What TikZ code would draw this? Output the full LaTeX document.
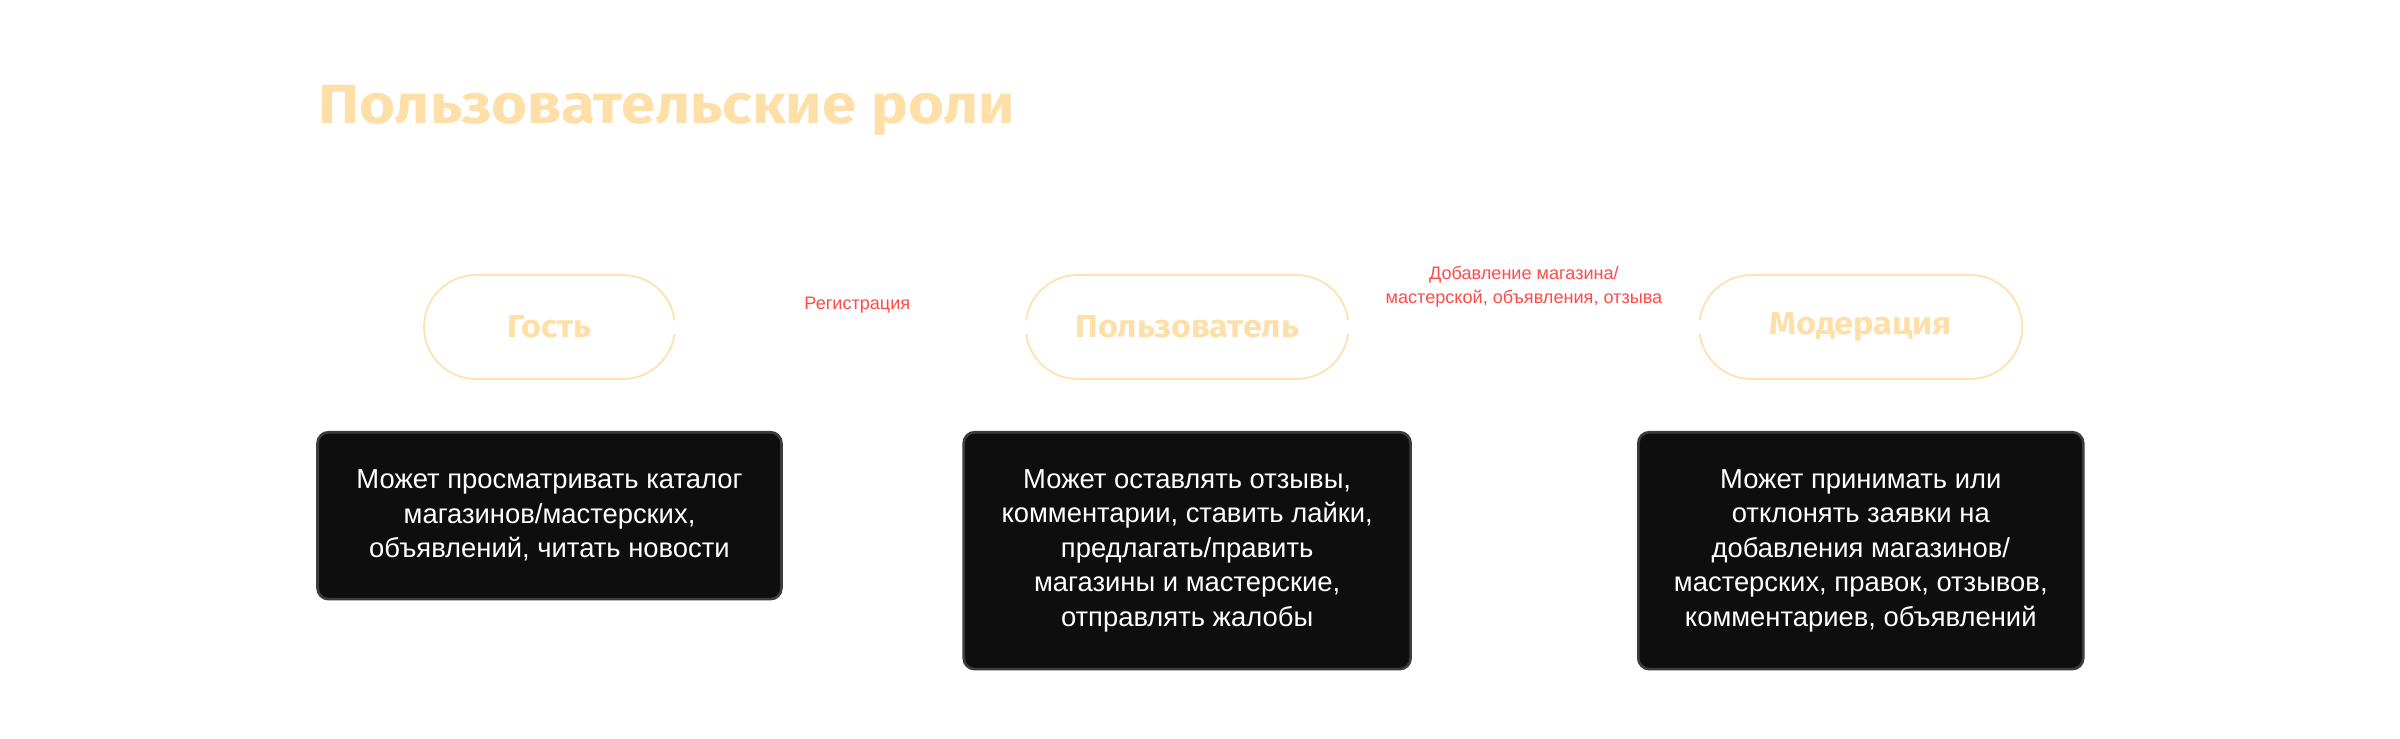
\documentclass[tikz,border=0pt]{standalone}
\usepackage{fontspec}
\setmainfont{Liberation Sans}
\newfontfamily\headfont{Fira Sans}[FakeStretch=1.08]
\newfontfamily\titlefont{Fira Sans}[FakeStretch=1.12]
\usepackage{xcolor}
\usepackage{tikz}
\usetikzlibrary{positioning}
\definecolor{peach}{HTML}{FFDFA8}
\definecolor{peachline}{HTML}{FFE0AE}
\definecolor{linkred}{HTML}{FF4A4A}
\definecolor{boxfill}{HTML}{0E0E0E}
\definecolor{boxedge}{HTML}{3C3C3C}
\tikzset{
    rolebox/.style={
        draw=peachline,
        line width=1pt,
        rounded corners=1.04cm,
        minimum height=2.08cm,
        text=peach,
        font=\headfont\bfseries\fontsize{18}{22}\selectfont
    },
    infobox/.style={
        draw=boxedge,
        fill=boxfill,
        line width=1.5pt,
        rounded corners=0.22cm,
        align=center,
        text=white,
        font=\fontsize{15.6}{19.6}\selectfont
    },
    transition/.style={
        draw=white,
        line width=8pt,
        shorten <=-2pt,
        shorten >=-2pt
    },
    linklabel/.style={
        text=linkred,
        align=center,
        inner sep=0pt,
        font=\fontsize{10.3}{13.9}\selectfont
    }
}

\begin{document}
\begin{tikzpicture}[x=0.02cm, y=-0.02cm, node distance=1.02cm and 6.98cm]
    \useasboundingbox (0,0) rectangle (2400,738);

    \node[anchor=base west, inner sep=0pt, text=peach,
          font=\titlefont\bfseries\fontsize{31.4}{36}\selectfont] (title) at (318,123) {Пользовательские роли};

    % roles
    \node[rolebox, minimum width=5.02cm] (guest) at (549.5,327) {Гость};
    \node[rolebox, minimum width=6.46cm, right=of guest] (user) {Пользователь};
    \node[rolebox, minimum width=6.46cm, right=of user] (moder) {Модерация};

    % what each role can do
    \node[infobox, minimum width=9.28cm, minimum height=3.34cm, below=of guest] (guestinfo) {
        Может просматривать каталог\\
        магазинов/мастерских,\\
        объявлений, читать новости
    };
    \node[infobox, minimum width=8.94cm, minimum height=4.74cm, below=of user] (userinfo) {
        Может оставлять отзывы,\\
        комментарии, ставить лайки,\\
        предлагать/править\\
        магазины и мастерские,\\
        отправлять жалобы
    };
    \node[infobox, minimum width=8.9cm, minimum height=4.74cm, below=of moder] (moderinfo) {
        Может принимать или\\
        отклонять заявки на\\
        добавления магазинов/\\
        мастерских, правок, отзывов,\\
        комментариев, объявлений
    };

    \draw[transition] (guest) -- node[linklabel, above=3.9pt, xshift=4pt] {Регистрация} (user);
    \draw[transition] (user) -- node[linklabel, above=7pt] {Добавление магазина/\\мастерской, объявления, отзыва} (moder);
\end{tikzpicture}
\end{document}
